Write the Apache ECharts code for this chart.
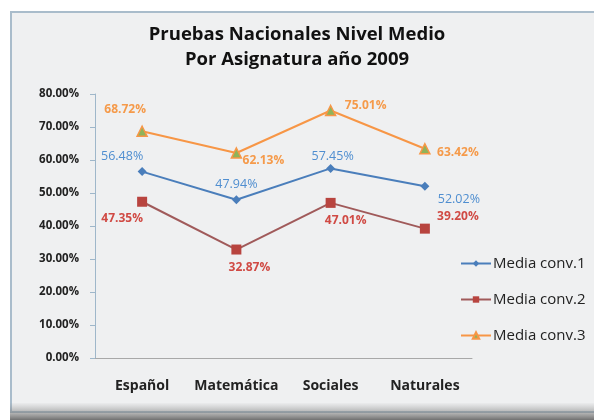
<!DOCTYPE html>
<html>
<head>
<meta charset="utf-8">
<script src="https://cdn.jsdelivr.net/npm/echarts@6/dist/echarts.min.js"></script>
<style>
html,body{margin:0;padding:0;background:#ffffff;}
#c{width:594px;height:420px;}
</style>
</head>
<body>
<div id="c"></div>
<script>
var categories = ['Español', 'Matemática', 'Sociales', 'Naturales'];
var seriesNames = ['Media conv.1', 'Media conv.2', 'Media conv.3'];
var conv1 = [56.48, 47.94, 57.45, 52.02];
var conv2 = [47.35, 32.87, 47.01, 39.20];
var conv3 = [68.72, 62.13, 75.01, 63.42];
var yTicks = [0, 10, 20, 30, 40, 50, 60, 70, 80];

// label offsets (pixels from point centre), per series per point
var off1 = [[-20, -15], [0, -15], [2, -12], [34, 13]];
var off2 = [[-20, 17], [13, 18], [15, 18], [33, -12]];
var off3 = [[-17, -22], [27, 8], [35, -5], [33, 4]];

function mk(vals, offs) {
  return vals.map(function (v, i) {
    return { value: v, label: { offset: offs[i] } };
  });
}
var font = '"Open Sans", "Noto Sans", sans-serif';
var chart = echarts.init(document.getElementById('c'));
chart.setOption({
  backgroundColor: '#ffffff',
  animation: false,
  graphic: [
    { type: 'rect', silent: true, z: -10, shape: { x: 11, y: 12, width: 590, height: 400 },
      style: { fill: '#eff0f1', stroke: '#a9bccb', lineWidth: 2 } },
    { type: 'rect', silent: true, z: -9, shape: { x: 10, y: 403, width: 590, height: 17 },
      style: { fill: new echarts.graphic.LinearGradient(0, 0, 0, 1, [
        { offset: 0, color: 'rgba(150,150,150,0.05)' },
        { offset: 1, color: 'rgba(105,105,105,0.95)' }]) } }
  ],
  title: {
    text: 'Pruebas Nacionales Nivel Medio\nPor Asignatura año 2009',
    left: 'center', top: 17,
    textStyle: { fontFamily: font, fontWeight: 'bold', fontSize: 18.5, lineHeight: 25, color: '#111' }
  },
  legend: {
    orient: 'vertical', left: 460, top: 256, padding: 0, itemWidth: 30, itemHeight: 8, itemGap: 21,
    data: seriesNames,
    textStyle: { fontFamily: font, fontSize: 15, color: '#222', padding: [0, 0, 0, -3] }
  },
  grid: { left: 95, right: 122, top: 94, bottom: 62 },
  xAxis: {
    type: 'category', data: categories, boundaryGap: true,
    axisLine: { lineStyle: { color: '#a8a8a8' } },
    axisTick: { alignWithLabel: false, length: 5, lineStyle: { color: '#a8a8a8' } },
    axisLabel: { interval: 0, margin: 21, fontFamily: font, fontWeight: 'bold', fontSize: 14, color: '#222' }
  },
  yAxis: {
    type: 'value', min: 0, max: 80, interval: 10,
    axisLine: { show: true, lineStyle: { color: '#9fb7ca' } },
    axisTick: { show: true, length: 5, lineStyle: { color: '#9fb7ca' } },
    splitLine: { show: false },
    axisLabel: { margin: 16, fontFamily: font, fontWeight: 'bold', fontSize: 11.5, color: '#222',
      formatter: function (v) { return v.toFixed(2) + '%'; } }
  },
  series: [
    { name: seriesNames[0], type: 'line', data: mk(conv1, off1), symbol: 'diamond', symbolSize: 9,
      lineStyle: { color: '#4a7ebb', width: 2 }, itemStyle: { color: '#4a7ebb' },
      label: { show: true, position: 'inside', fontFamily: font, fontSize: 12.5, color: '#4f8ed0',
        formatter: function (p) { return p.value.toFixed(2) + '%'; } } },
    { name: seriesNames[1], type: 'line', data: mk(conv2, off2), symbol: 'rect', symbolSize: 10,
      lineStyle: { color: '#a05a5a', width: 2 }, itemStyle: { color: '#b8443f' },
      label: { show: true, position: 'inside', fontFamily: font, fontWeight: 'bold', fontSize: 12, color: '#d04a44',
        formatter: function (p) { return p.value.toFixed(2) + '%'; } } },
    { name: seriesNames[2], type: 'line', data: mk(conv3, off3), symbol: 'triangle', symbolSize: 10,
      lineStyle: { color: '#f79646', width: 2 }, itemStyle: { color: '#8fb35a', borderColor: '#f79646', borderWidth: 1.5 },
      label: { show: true, position: 'inside', fontFamily: font, fontWeight: 'bold', fontSize: 12, color: '#f59a4a',
        formatter: function (p) { return p.value.toFixed(2) + '%'; } } }
  ]
});
</script>
</body>
</html>
